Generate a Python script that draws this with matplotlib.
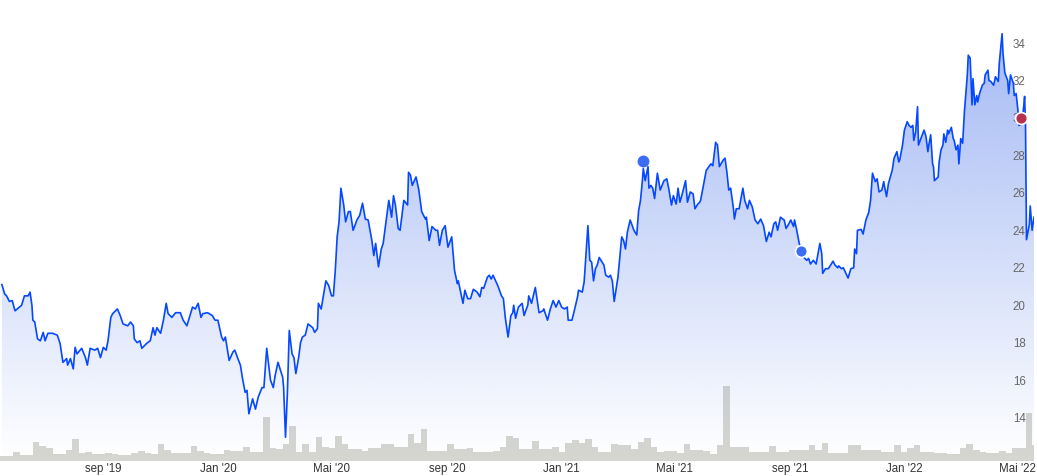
import numpy as np
import pandas as pd
import matplotlib
matplotlib.use("Agg")
import matplotlib.pyplot as plt
import matplotlib.dates as mdates

plt.rcParams['font.family'] = ['Liberation Sans', 'DejaVu Sans']

# share price, days counted from 14 May 2019
start = pd.Timestamp('2019-05-14')
days = [
    2, 5, 7, 10, 13, 16, 23, 26, 30, 32,
    34, 35, 37, 40, 43, 46, 48, 51, 56, 61,
    64, 67, 71, 72, 75, 78, 80, 82, 87, 91,
    93, 96, 101, 104, 107, 110, 113, 115, 118, 120,
    125, 128, 131, 136, 139, 142, 143, 146, 149, 151,
    157, 160, 163, 165, 167, 171, 174, 177, 179, 183,
    187, 192, 195, 199, 205, 208, 211, 214, 216, 221,
    226, 229, 232, 236, 238, 240, 244, 248, 250, 254,
    256, 258, 261, 263, 265, 269, 272, 275, 279, 281,
    284, 288, 291, 293, 296, 301, 302, 304, 306, 308,
    311, 313, 315, 318, 320, 322, 325, 328, 333, 335,
    338, 339, 342, 347, 350, 353, 355, 357, 359, 361,
    363, 366, 368, 371, 373, 376, 380, 383, 386, 389,
    392, 396, 398, 400, 403, 406, 408, 414, 417, 419,
    421, 424, 426, 430, 434, 435, 437, 439, 443, 446,
    449, 453, 454, 457, 460, 464, 466, 468, 471, 474,
    477, 481, 484, 487, 488, 493, 495, 498, 501, 504,
    508, 511, 513, 515, 519, 521, 523, 525, 530, 534,
    536, 538, 541, 544, 546, 547, 549, 552, 556, 558,
    562, 563, 566, 570, 574, 578, 579, 583, 586, 589,
    592, 595, 598, 601, 604, 605, 609, 611, 615, 616,
    620, 622, 626, 628, 630, 632, 634, 636, 638, 643,
    645, 648, 650, 652, 654, 658, 662, 664, 666, 668,
    671, 675, 678, 680, 682, 684, 685, 687, 690, 691,
    693, 695, 697, 700, 703, 707, 710, 712, 715, 717,
    720, 722, 724, 727, 730, 732, 735, 738, 740, 743,
    745, 746, 749, 752, 757, 759, 762, 764, 766, 770,
    772, 774, 776, 778, 781, 782, 784, 787, 791, 793,
    796, 798, 801, 804, 807, 810, 813, 816, 819, 821,
    824, 826, 828, 831, 835, 837, 840, 842, 845, 846,
    848, 851, 853, 856, 859, 861, 863, 866, 869, 871,
    873, 875, 876, 879, 882, 887, 889, 892, 893, 896,
    898, 903, 906, 909, 910, 912, 913, 917, 919, 922,
    925, 927, 929, 932, 934, 936, 939, 941, 942, 944,
    946, 950, 952, 955, 957, 958, 961, 963, 966, 968,
    970, 972, 973, 975, 977, 978, 982, 984, 986, 988,
    989, 991, 993, 994, 995, 999, 1000, 1002, 1004, 1005,
    1007, 1009, 1010, 1013, 1015, 1016, 1018, 1020, 1021, 1023,
    1025, 1027, 1030, 1031, 1033, 1035, 1036, 1038, 1040, 1041,
    1043, 1046, 1048, 1049, 1052, 1053, 1055, 1058, 1060, 1063,
    1064, 1067, 1068, 1070, 1073, 1074, 1076, 1079, 1080, 1082,
    1084, 1085, 1088, 1090, 1091, 1092, 1093, 1096, 1097, 1099,
    1101,
]
prices = [
    21.1, 20.6, 20.5, 20.2, 20.25, 19.7, 20.0, 20.5, 20.5, 20.7,
    20.0, 19.2, 19.1, 18.2, 18.1, 18.55, 18.1, 18.5, 18.5, 18.4,
    17.95, 16.95, 17.15, 16.8, 17.15, 16.6, 17.75, 17.4, 17.7, 17.2,
    16.8, 17.7, 17.6, 17.7, 17.2, 17.75, 17.6, 18.1, 19.35, 19.55,
    19.8, 19.45, 19.0, 18.9, 19.1, 18.9, 18.2, 18.0, 18.1, 17.7,
    18.0, 18.1, 18.8, 18.4, 18.8, 18.5, 19.2, 20.1, 19.55, 19.35,
    19.6, 19.6, 19.2, 18.9, 19.9, 19.8, 20.1, 19.35, 19.55, 19.6,
    19.45, 19.2, 19.2, 18.3, 18.1, 18.3, 17.05, 17.5, 17.6, 17.05,
    16.8, 16.15, 15.35, 15.45, 14.2, 15.0, 14.45, 15.1, 15.6, 15.6,
    17.7, 16.0, 15.6, 16.25, 16.95, 16.15, 15.6, 12.95, 15.3, 18.65,
    17.4, 17.2, 16.35, 17.2, 18.0, 18.3, 18.4, 19.0, 18.8, 18.55,
    18.75, 20.1, 19.8, 21.3, 21.05, 20.5, 20.5, 21.85, 23.65, 24.45,
    26.25, 25.35, 24.45, 25.0, 25.0, 24.0, 24.55, 24.8, 25.45, 24.6,
    24.55, 23.45, 22.65, 23.3, 22.05, 23.0, 23.3, 25.6, 24.7, 25.85,
    25.35, 24.1, 24.0, 25.6, 25.35, 27.1, 26.95, 26.4, 26.85, 26.15,
    25.0, 24.6, 24.7, 23.45, 24.2, 24.0, 24.0, 23.2, 24.0, 24.25,
    23.1, 23.65, 21.85, 21.15, 21.3, 20.1, 20.8, 20.35, 20.35, 20.85,
    20.7, 20.45, 20.95, 20.9, 21.5, 21.6, 21.4, 21.6, 21.05, 20.5,
    20.35, 19.35, 18.3, 19.45, 19.6, 20.0, 19.3, 19.9, 20.1, 19.45,
    20.0, 20.5, 20.1, 20.95, 19.6, 19.7, 19.8, 19.2, 19.8, 20.25,
    19.9, 20.25, 19.9, 19.8, 19.9, 19.2, 19.2, 19.6, 20.45, 20.8,
    20.7, 21.25, 24.25, 22.4, 22.3, 21.3, 21.95, 22.15, 22.55, 22.15,
    21.6, 21.5, 21.6, 21.3, 20.2, 21.5, 23.65, 23.45, 23.0, 23.9,
    24.55, 24.0, 23.75, 25.05, 25.6, 26.65, 27.3, 26.65, 27.4, 26.25,
    26.4, 26.25, 25.7, 27.05, 26.15, 26.65, 26.75, 26.25, 25.35, 25.85,
    25.4, 26.25, 25.5, 26.05, 26.65, 25.5, 26.05, 25.95, 25.15, 25.4,
    25.5, 25.6, 26.4, 27.2, 27.55, 27.45, 28.7, 28.55, 27.4, 27.75,
    27.85, 27.1, 26.15, 26.25, 25.15, 24.6, 25.15, 25.15, 26.25, 25.6,
    25.15, 25.6, 25.25, 24.55, 24.35, 24.6, 24.25, 23.4, 23.9, 23.65,
    24.35, 24.45, 24.0, 24.7, 24.55, 24.1, 24.35, 24.55, 24.2, 24.55,
    24.1, 23.3, 23.0, 22.55, 22.4, 22.5, 22.2, 22.4, 22.2, 22.75,
    23.3, 22.75, 21.7, 21.95, 21.95, 22.35, 22.15, 22.0, 22.1, 21.95,
    22.0, 21.45, 21.95, 22.0, 23.0, 22.75, 24.0, 24.05, 23.8, 24.55,
    24.95, 25.6, 27.05, 26.6, 26.75, 26.05, 26.15, 26.6, 26.3, 25.8,
    26.5, 27.2, 27.85, 28.2, 27.65, 27.75, 28.55, 29.35, 29.8, 29.6,
    29.5, 29.6, 28.8, 29.25, 30.6, 28.55, 29.1, 29.35, 29.0, 28.2,
    28.55, 29.1, 27.55, 27.4, 26.65, 26.85, 27.65, 28.3, 28.55, 29.15,
    28.7, 29.35, 29.15, 29.5, 28.9, 28.8, 28.3, 28.55, 27.55, 28.9,
    28.65, 30.4, 32.3, 33.35, 33.2, 30.7, 32.1, 30.7, 31.2, 30.85,
    31.3, 31.75, 31.85, 32.3, 32.55, 32.0, 31.95, 31.75, 32.2, 31.95,
    32.9, 34.5, 33.45, 32.4, 32.0, 31.3, 32.3, 31.85, 31.2, 31.3,
    30.35, 29.6, 29.7, 30.6, 31.15, 29.5, 23.5, 24.3, 25.3, 24.0,
    24.7,
]

# weekly volume (arbitrary units), first week starting 14 May 2019
volume = [
    5, 5, 9, 6.5, 6.5, 19, 15, 13, 7.5, 7,
    11, 22, 8, 9, 7, 7, 8, 7, 6.5, 6.5,
    8, 10, 8, 7, 17, 11, 8, 8, 8, 15,
    10, 8, 7, 7, 11, 10, 10, 14, 9, 9,
    44, 13, 12, 17, 35, 9, 17, 9, 24, 14,
    13, 25, 17, 12, 12, 10, 13, 13, 17, 17,
    14, 14, 27, 18, 32, 10, 10, 10, 17, 12,
    12, 13, 9, 9, 9, 10, 14, 25, 23, 12,
    12, 20, 12, 12, 14, 9, 18, 21, 18, 22,
    14, 9, 9, 17, 16, 16, 12, 19, 23, 14,
    9, 10, 10, 8, 17, 11, 11, 10, 7, 16,
    75, 14, 14, 14, 9, 9, 9, 15, 9, 9,
    11, 11, 11, 16, 11, 18, 8, 8, 8, 16,
    16, 11, 11, 11, 9, 9, 16, 9, 13, 16,
    9, 9, 8, 8, 7, 7, 13, 17, 11, 9,
    8, 8, 10, 8, 13, 13, 48, 16,
]

# highlighted points
event_days = [685, 853]
event_prices = [27.7, 22.9]
last_day = 1087
last_price = 30.0

tick_dates = ['2019-09-01', '2020-01-01', '2020-05-01', '2020-09-01', '2021-01-01',
              '2021-05-01', '2021-09-01', '2022-01-01', '2022-05-01']
tick_labels = ["sep '19", "Jan '20", "Mai '20", "sep '20", "Jan '21",
               "Mai '21", "sep '21", "Jan '22", "Mai '22"]
price_ticks = [14, 16, 18, 20, 22, 24, 26, 28, 30, 32, 34]

dates = start + pd.to_timedelta(days, unit='D')
vol_dates = start + pd.Timedelta(days=3.5) + pd.to_timedelta(np.arange(len(volume)) * 7, unit='D')
ev_dates = start + pd.to_timedelta(event_days, unit='D')
last_date = start + pd.Timedelta(days=last_day)

x0 = start
x1 = start + pd.Timedelta(days=1101)
ymin, ymax = 11.68, 36.3

fig = plt.figure(figsize=(10.37, 4.76), dpi=100)
rect = [0.0, 15 / 476, 1034 / 1037, 461 / 476]

# volume axes underneath
axv = fig.add_axes(rect)
axv.bar(vol_dates, volume, width=7, color='#d6d6d0', linewidth=0, align='center')
axv.set_ylim(0, 461)
axv.set_xlim(x0, x1)
axv.axis('off')

# price axes on top
ax = fig.add_axes(rect)
ax.patch.set_visible(False)
ax.set_xlim(x0, x1)
ax.set_ylim(ymin, ymax)

# gradient fill under the line
grad = np.linspace(0, 1, 256).reshape(-1, 1)
rgba = np.zeros((256, 1, 4))
rgba[..., 0] = 40 / 255
rgba[..., 1] = 90 / 255
rgba[..., 2] = 230 / 255
rgba[..., 3] = 0.42 * grad[:, :]
img = ax.imshow(rgba, aspect='auto', origin='lower',
                extent=[mdates.date2num(x0), mdates.date2num(x1), ymin, 34.5],
                zorder=1, interpolation='bilinear')
poly = ax.fill_between(dates, prices, ymin, color='none', linewidth=0)
img.set_clip_path(poly.get_paths()[0], transform=ax.transData)
ax.set_xlim(x0, x1)
ax.set_ylim(ymin, ymax)

ax.plot(dates, prices, color='#0548ff', linewidth=1.2, zorder=3)

ax.plot(ev_dates[:1], event_prices[:1], 'o', color='#3b6cf2', markersize=7.5, zorder=4)
ax.plot(ev_dates[1:], event_prices[1:], 'o', color='#3b6cf2', markersize=8.5,
        markeredgecolor='white', markeredgewidth=1.2, zorder=4)
ax.plot([last_date], [last_price], 'o', color='#b7304e', markersize=8.5,
        markeredgecolor='white', markeredgewidth=1.2, zorder=4)

ax.set_xticks(pd.to_datetime(tick_dates))
ax.set_xticklabels(tick_labels)
ax.set_yticks(price_ticks)
ax.yaxis.tick_right()
ax.tick_params(axis='x', length=0, pad=1.5, labelsize=8.3, labelcolor='#333333')
ax.tick_params(axis='y', length=0, pad=-6, labelsize=8.3, labelcolor='#666666')
for lab in ax.get_yticklabels():
    lab.set_horizontalalignment('right')
for s in ax.spines.values():
    s.set_visible(False)

fig.savefig('out.png', dpi=100, facecolor='white')
